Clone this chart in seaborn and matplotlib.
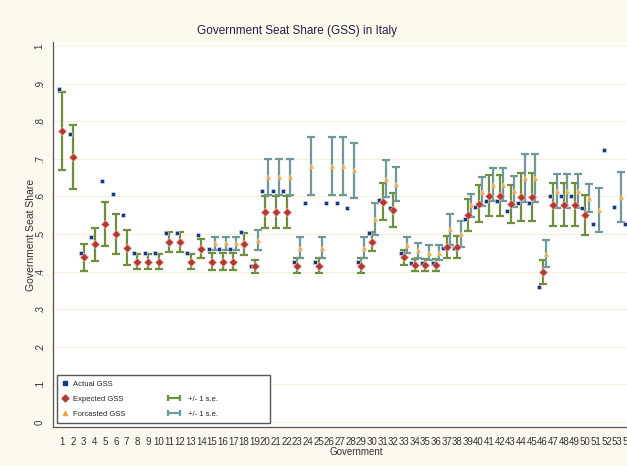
import numpy as np
import pandas as pd
import seaborn as sns
import matplotlib.pyplot as plt
from matplotlib.lines import Line2D
from matplotlib.legend_handler import HandlerLine2D

nan = np.nan

govs = list(range(1, 55))

actual = [.886, .767, .449, .492, .641, .606, .550, .449, .449, .449,
          .503, .503, .449, .497, .460, .460, .460, .506, .416, .615,
          .615, .615, .425, .583, .425, .583, .583, .570, .425, .503,
          .590, .568, .449, .424, .424, .424, .464, .464, .539, .573,
          .588, .588, .562, .583, .583, .360, .601, .601, .601, .568,
          .527, .723, .572, .527]

expected = [.774, .705, .438, .473, .526, .501, .464, .426, .426, .426,
            .479, .479, .426, .461, .426, .426, .426, .473, .414, .559,
            .559, .559, .416, nan, .416, nan, nan, nan, .416, .479,
            .586, .564, .438, .417, .417, .417, .466, .466, .550, .581,
            .602, .602, .580, .598, .598, .399, .578, .578, .578, .551,
            nan, nan, nan, nan]
expected_se = [.103, .086, .036, .044, .058, .053, .047, .020, .020, .020,
               .027, .027, .020, .025, .023, .023, .023, .030, .018, .043,
               .043, .043, .019, nan, .019, nan, nan, nan, .019, .025,
               .049, .046, .020, .016, .016, .016, .029, .029, .042, .049,
               .055, .055, .051, .064, .064, .031, .058, .058, .058, .053,
               nan, nan, nan, nan]

forecast = [nan, nan, nan, nan, nan, nan, nan, nan, nan, nan,
            nan, nan, nan, nan, .475, .475, .475, nan, .484, .651,
            .651, .651, .464, .681, .464, .681, .681, .670, .464, .540,
            .647, .633, .471, .457, .450, .450, .512, .500, .576, .613,
            .631, .631, .614, .648, .648, .447, .614, .614, .614, .595,
            .564, nan, .598, nan]
forecast_se = [nan, nan, nan, nan, nan, nan, nan, nan, nan, nan,
               nan, nan, nan, nan, .018, .018, .018, nan, .027, .048,
               .048, .048, .027, .076, .027, .076, .076, .073, .027, .042,
               .049, .044, .022, .020, .020, .020, .042, .034, .031, .039,
               .044, .044, .041, .064, .064, .036, .045, .045, .045, .037,
               .058, nan, .066, nan]

df = pd.DataFrame({"gov": govs, "actual": actual, "expected": expected,
                   "expected_se": expected_se, "forecast": forecast,
                   "forecast_se": forecast_se})

sns.set_theme(style="white")
plt.rcParams["font.family"] = ["Liberation Sans", "DejaVu Sans"]

bg = "#fdf9ee"
navy = "#1c3587"
red = "#b23a32"
orange = "#f0a23a"
green = "#6e8f3e"
teal = "#6f9898"

fig = plt.figure(figsize=(6.27, 4.66), dpi=100, facecolor=bg)
ax = fig.add_axes([53 / 627, 39 / 466, 606 / 627, 385 / 466])
ax.set_facecolor("white")

off = 0.3
ax.errorbar(df["gov"], df["expected"], yerr=df["expected_se"], fmt="none",
            ecolor=green, elinewidth=1.6, capsize=3.2, capthick=1.6, zorder=2)
ax.errorbar(df["gov"] + off, df["forecast"], yerr=df["forecast_se"], fmt="none",
            ecolor=teal, elinewidth=1.6, capsize=3.2, capthick=1.6, zorder=2)

sns.scatterplot(x=df["gov"] - off, y=df["actual"], marker="s", s=9, color=navy,
                edgecolor="#dfe6f5", linewidth=0.4, ax=ax, zorder=3)
sns.scatterplot(x=df["gov"], y=df["expected"], marker="D", s=18, color=red,
                edgecolor="#f0b0a8", linewidth=0.5, ax=ax, zorder=3)
sns.scatterplot(x=df["gov"] + off, y=df["forecast"], marker="^", s=12, color=orange,
                edgecolor="#fbd9a8", linewidth=0.4, ax=ax, zorder=3)

ax.set_xlim(0.11, 56.9)
ax.set_ylim(-0.0133, 1.0106)
ax.set_xticks(govs)
ax.set_xticklabels([str(g) for g in govs], fontsize=7, color="#333333")
yt = np.round(np.arange(0, 1.01, 0.1), 1)
ax.set_yticks(yt)
ax.set_yticklabels(["0"] + ["." + str(i) for i in range(1, 10)] + ["1"],
                   fontsize=7, rotation=90, va="center", color="#333333")
ax.tick_params(axis="both", length=4, width=0.8, color="#555555", pad=2, direction="out")
ax.tick_params(axis="x", pad=3)
for yv in yt:
    ax.axhline(yv, color="#f6f0dc", lw=0.8, zorder=0)
for s in ["top", "right"]:
    ax.spines[s].set_visible(False)
for s in ["left", "bottom"]:
    ax.spines[s].set_color("#555555")
    ax.spines[s].set_linewidth(0.9)

ax.set_xlabel("Government", fontsize=7, color="#333333", labelpad=0)
ax.set_ylabel("Government Seat Share", fontsize=7.5, color="#333333", labelpad=-1)
fig.text(297 / 627, 1 - 31 / 466, "Government Seat Share (GSS) in Italy",
         fontsize=8.5, color="#222244", ha="center", va="center")

# legend: boxed marker column plus a frameless column for the error bars
leg_kw = dict(loc="lower left", bbox_transform=fig.transFigure, fontsize=5.5,
              labelspacing=1.0, borderpad=0.7, handletextpad=0.8, borderaxespad=0)
h_act = Line2D([], [], marker="s", ls="none", color=navy, markersize=2.5)
h_exp = Line2D([], [], marker="D", ls="none", color=red, markersize=3.5)
h_fc = Line2D([], [], marker="^", ls="none", color=orange, markersize=3)
leg1 = ax.legend([h_act, h_exp, h_fc], ["Actual GSS", "Expected GSS", "Forcasted GSS"],
                 bbox_to_anchor=(57 / 627, 43 / 466, 213 / 627, 48 / 466), mode="expand",
                 frameon=True, fancybox=False, edgecolor="#555555", framealpha=1,
                 handlelength=0.6, **leg_kw)
leg1.get_frame().set_linewidth(1.0)
for t in leg1.get_texts():
    t.set_color("#222222")
ax.add_artist(leg1)

h_blank = Line2D([], [], ls="none")
h_eg = Line2D([], [], color=green, lw=1.6, marker="|", markersize=5, mew=1.6)
h_et = Line2D([], [], color=teal, lw=1.6, marker="|", markersize=5, mew=1.6)
leg2 = ax.legend([h_blank, h_eg, h_et], [" ", "+/- 1 s.e.", "+/- 1 s.e."],
                 bbox_to_anchor=(160 / 627, 43 / 466), frameon=False,
                 handlelength=2.2,
                 handler_map={h_eg: HandlerLine2D(numpoints=2), h_et: HandlerLine2D(numpoints=2)},
                 **leg_kw)
for t in leg2.get_texts():
    t.set_color("#222222")

fig.savefig("out.png", dpi=100, facecolor=bg)
